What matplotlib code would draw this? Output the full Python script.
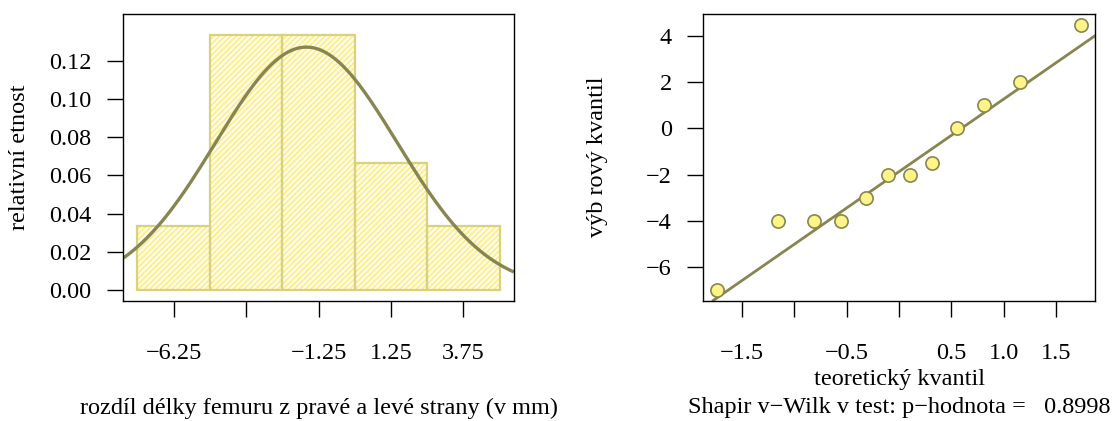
import numpy as np
import matplotlib
matplotlib.use("Agg")
import matplotlib.pyplot as plt

plt.rcParams['font.family'] = ['Liberation Serif', 'DejaVu Serif']
plt.rcParams['font.size'] = 17.5
plt.rcParams['hatch.linewidth'] = 1.5

# ---- data ----
bin_centers = [-6.25, -3.75, -1.25, 1.25, 3.75]
bin_width = 2.5
rel_freq = [0.0333, 0.1333, 0.1333, 0.0667, 0.0333]
hist_xticks = [-6.25, -3.75, -1.25, 1.25, 3.75]
hist_xticklabels = ['\u22126.25', '', '\u22121.25', '1.25', '3.75']
hist_yticks = [0.00, 0.02, 0.04, 0.06, 0.08, 0.10, 0.12]
norm_mean = -1.667
norm_sd = 3.136

qq_theoretical = [-1.732, -1.150, -0.812, -0.549, -0.319, -0.105,
                  0.105, 0.319, 0.549, 0.812, 1.150, 1.732]
qq_sample = [-7, -4, -4, -4, -3, -2, -2, -1.5, 0, 1, 2, 4.5]
qq_intercept = -1.875
qq_slope = 3.1505
qq_xticks = [-1.5, -1.0, -0.5, 0.0, 0.5, 1.0, 1.5]
qq_xticklabels = ['\u22121.5', '', '\u22120.5', '', '0.5', '1.0', '1.5']
qq_yticks = [-6, -4, -2, 0, 2, 4]
qq_yticklabels = ['\u22126', '\u22124', '\u22122', '0', '2', '4']
p_value = 0.8998

W, H = 1120, 421
FS = 17.5
fig = plt.figure(figsize=(W / 100, H / 100), dpi=100)

olive = '#878650'
hatch_col = '#FFEF8A'
edge_col = '#D9D17E'

def px_axes(x0, y0, x1, y1):
    return fig.add_axes([x0 / W, 1 - y1 / H, (x1 - x0) / W, (y1 - y0) / H])

# ---- left: histogram ----
ax1 = px_axes(123, 14, 514, 300.5)
ax1.bar(bin_centers, rel_freq, width=bin_width, facecolor='white',
        edgecolor=hatch_col, hatch='//////', linewidth=0)
ax1.bar(bin_centers, rel_freq, width=bin_width, facecolor='none',
        edgecolor=edge_col, linewidth=1.6)
xs = np.linspace(-8, 5.5, 400)
ys = np.exp(-0.5 * ((xs - norm_mean) / norm_sd) ** 2) / (norm_sd * np.sqrt(2 * np.pi))
ax1.plot(xs, ys, color=olive, lw=2.4, solid_capstyle='butt')
ax1.set_xlim(-8, 5.5)
ax1.set_ylim(-0.00556, 0.14456)
ax1.set_xticks(hist_xticks)
ax1.set_xticklabels(hist_xticklabels)
ax1.set_yticks(hist_yticks)
ax1.set_yticklabels(['%.2f' % v for v in hist_yticks])

# ---- right: QQ plot ----
ax2 = px_axes(703, 14, 1095, 300.5)
ax2.axline((0, qq_intercept), slope=qq_slope, color=olive, lw=2.0)
ax2.plot(qq_theoretical, qq_sample, 'o', ms=9.5, mfc='#FFF487', mec=olive, mew=1.2,
         clip_on=False, zorder=3)
ax2.set_xlim(-1.870, 1.870)
ax2.set_ylim(-7.46, 4.96)
ax2.set_xticks(qq_xticks)
ax2.set_xticklabels(qq_xticklabels)
ax2.set_yticks(qq_yticks)
ax2.set_yticklabels(qq_yticklabels)

for ax in (ax1, ax2):
    for s in ax.spines.values():
        s.set_linewidth(1.0)
        s.set_color('black')
    ax.tick_params(axis='both', length=11.5, width=1.0, labelsize=FS)
    ax.tick_params(axis='x', pad=19)
    ax.tick_params(axis='y', pad=11)

fig.text(20 / W, 1 - 157 / H, 'relativní etnost', rotation=90, ha='center', va='center', fontsize=FS)
fig.text(598 / W, 1 - 157 / H, 'výb rový kvantil', rotation=90, ha='center', va='center', fontsize=FS)
fig.text(318.5 / W, 1 - 408 / H, 'rozdíl délky femuru z pravé a levé strany (v mm)',
         ha='center', va='center', fontsize=FS)
fig.text(899 / W, 1 - 379 / H, 'teoretický kvantil', ha='center', va='center', fontsize=FS)
fig.text(899 / W, 1 - 408 / H, 'Shapir v\u2212Wilk v test: p\u2212hodnota =   %.4f' % p_value,
         ha='center', va='center', fontsize=FS)

fig.savefig('out.png', dpi=100)
